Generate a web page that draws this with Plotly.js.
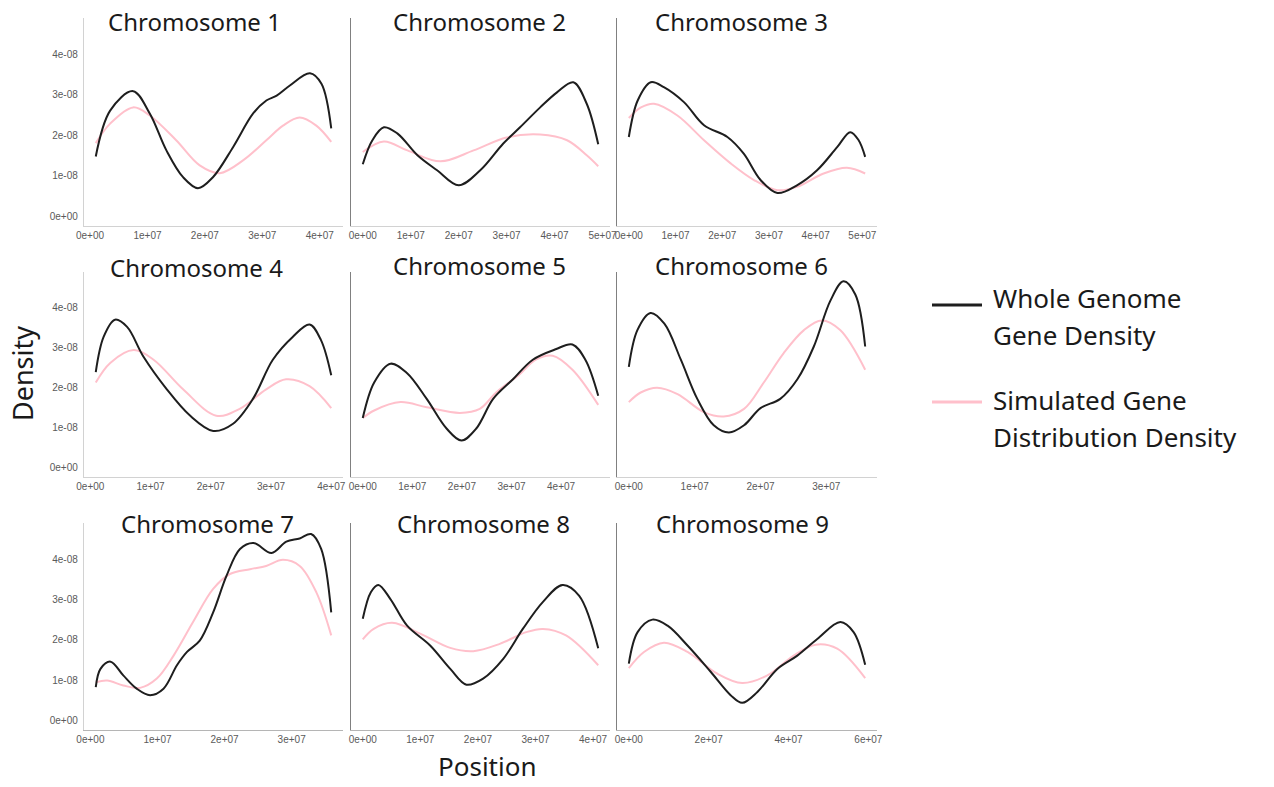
<!DOCTYPE html>
<html>
<head>
<meta charset="utf-8">
<script src="https://cdn.plot.ly/plotly-3.0.1.min.js"></script>
<style>html,body{margin:0;padding:0;background:#fff;}#chart{width:1274px;height:787px;}</style>
</head>
<body>
<div id="chart"></div>
<script>
// Units: positions in 1e7 bp, densities in 1e-8
const POS_UNIT = 1e7;
const DENS_UNIT = 1e-8;

const chromosomes = ['Chromosome 1','Chromosome 2','Chromosome 3','Chromosome 4','Chromosome 5','Chromosome 6','Chromosome 7','Chromosome 8','Chromosome 9'];
const seriesNames = ['Whole Genome Gene Density', 'Simulated Gene Distribution Density'];

// Chromosome 1
const chr1WholePos = [0.1,0.35,0.75,1.04,1.33,1.62,1.88,2.14,2.49,2.84,3.07,3.25,3.48,3.83,4.03,4.2];
const chr1WholeDens = [1.48,2.61,3.09,2.54,1.63,0.97,0.70,0.97,1.71,2.54,2.86,2.98,3.23,3.53,3.27,2.17];
const chr1SimPos = [0.1,0.35,0.75,1.04,1.5,1.91,2.26,2.67,3.07,3.36,3.65,3.94,4.2];
const chr1SimDens = [1.81,2.29,2.69,2.49,1.88,1.26,1.07,1.39,1.88,2.24,2.44,2.24,1.84];
// Chromosome 2
const chr2WholePos = [0.0,0.2,0.44,0.72,1.14,1.55,2.0,2.45,2.93,3.28,3.70,4.05,4.39,4.67,4.91];
const chr2WholeDens = [1.29,1.88,2.20,2.05,1.51,1.14,0.77,1.14,1.80,2.20,2.69,3.06,3.31,2.78,1.78];
const chr2SimPos = [0.0,0.44,0.93,1.62,2.31,3.0,3.70,4.26,4.67,4.91];
const chr2SimDens = [1.59,1.85,1.63,1.36,1.63,1.95,2.02,1.88,1.51,1.24];
// Chromosome 3
const chr3WholePos = [0.0,0.19,0.47,0.75,1.18,1.61,2.11,2.46,2.82,3.18,3.60,4.03,4.46,4.74,4.92,5.06];
const chr3WholeDens = [1.96,2.86,3.31,3.19,2.82,2.25,1.96,1.55,0.90,0.58,0.77,1.14,1.71,2.08,1.88,1.47];
const chr3SimPos = [0.0,0.26,0.54,1.04,1.61,2.18,2.68,3.18,3.60,4.17,4.67,5.06];
const chr3SimDens = [2.43,2.69,2.78,2.49,1.88,1.31,0.90,0.65,0.73,1.06,1.20,1.06];
// Chromosome 4
const chr4WholePos = [0.09,0.22,0.41,0.61,0.88,1.27,1.65,2.04,2.37,2.70,3.03,3.36,3.64,3.83,4.0];
const chr4WholeDens = [2.39,3.27,3.70,3.52,2.78,1.96,1.31,0.92,1.10,1.72,2.70,3.27,3.58,3.19,2.31];
const chr4SimPos = [0.09,0.33,0.72,1.05,1.54,2.09,2.48,2.92,3.25,3.64,4.0];
const chr4SimDens = [2.13,2.62,2.94,2.70,1.96,1.30,1.47,1.96,2.21,2.04,1.49];
// Chromosome 5
const chr5WholePos = [0.0,0.23,0.56,0.89,1.29,1.69,1.99,2.29,2.63,3.03,3.43,3.89,4.23,4.49,4.75];
const chr5WholeDens = [1.24,2.13,2.60,2.37,1.72,0.98,0.68,0.98,1.72,2.21,2.70,2.96,3.08,2.70,1.80];
const chr5SimPos = [0.0,0.23,0.76,1.29,1.96,2.36,2.69,3.16,3.49,3.83,4.23,4.75];
const chr5SimDens = [1.24,1.43,1.64,1.51,1.37,1.47,1.88,2.33,2.70,2.80,2.45,1.57];
// Chromosome 6
const chr6WholePos = [0.0,0.13,0.33,0.54,0.79,1.04,1.29,1.52,1.75,2.0,2.30,2.56,2.81,3.06,3.26,3.44,3.59];
const chr6WholeDens = [2.52,3.44,3.87,3.60,2.70,1.72,1.06,0.88,1.06,1.49,1.72,2.21,3.03,4.17,4.66,4.33,3.03];
const chr6SimPos = [0.0,0.18,0.43,0.74,1.14,1.44,1.75,2.05,2.35,2.66,2.93,3.21,3.59];
const chr6SimDens = [1.64,1.88,2.00,1.84,1.39,1.28,1.47,2.13,2.86,3.44,3.68,3.44,2.45];
// Chromosome 7
const chr7WholePos = [0.08,0.15,0.30,0.49,0.69,0.89,1.09,1.29,1.44,1.63,1.83,2.03,2.23,2.43,2.70,2.92,3.12,3.29,3.44,3.59];
const chr7WholeDens = [0.83,1.28,1.46,1.12,0.79,0.63,0.79,1.37,1.70,1.98,2.68,3.59,4.25,4.40,4.15,4.43,4.51,4.62,4.25,2.68];
const chr7SimPos = [0.08,0.25,0.49,0.74,0.99,1.24,1.53,1.83,2.08,2.38,2.62,2.87,3.12,3.37,3.59];
const chr7SimDens = [0.95,0.99,0.87,0.81,1.04,1.61,2.44,3.26,3.63,3.75,3.83,3.98,3.83,3.17,2.11];
// Chromosome 8
const chr8WholePos = [0.0,0.14,0.27,0.48,0.77,1.17,1.52,1.80,2.09,2.44,2.78,3.13,3.47,3.76,4.09];
const chr8WholeDens = [2.52,3.18,3.36,3.01,2.35,1.86,1.28,0.89,1.04,1.53,2.27,2.94,3.36,3.09,1.79];
const chr8SimPos = [0.0,0.19,0.51,1.06,1.52,1.92,2.38,2.84,3.13,3.53,4.09];
const chr8SimDens = [2.01,2.27,2.42,2.11,1.80,1.72,1.90,2.19,2.27,2.11,1.37];
// Chromosome 9
const chr9WholePos = [0.0,0.22,0.59,0.97,1.47,2.05,2.55,2.84,3.22,3.72,4.22,4.72,5.30,5.63,5.92];
const chr9WholeDens = [1.41,2.19,2.50,2.35,1.86,1.21,0.63,0.44,0.71,1.28,1.61,2.02,2.44,2.19,1.38];
const chr9SimPos = [0.0,0.38,0.88,1.47,2.22,2.84,3.47,4.13,4.68,5.22,5.92];
const chr9SimDens = [1.30,1.70,1.93,1.70,1.16,0.93,1.12,1.61,1.88,1.78,1.05];

// Tick values (in 1e7 / 1e-8 units) and labels
const xTicks123458 = [0,1,2,3,4,5];
const xTickLabels123458 = ['0e+00','1e+07','2e+07','3e+07','4e+07','5e+07'];
const xTicks9 = [0,2,4,6];
const xTickLabels9 = ['0e+00','2e+07','4e+07','6e+07'];
const yTicks = [0,1,2,3,4];
const yTickLabels = ['0e+00','1e-08','2e-08','3e-08','4e-08'];

const wholePos = [chr1WholePos,chr2WholePos,chr3WholePos,chr4WholePos,chr5WholePos,chr6WholePos,chr7WholePos,chr8WholePos,chr9WholePos];
const wholeDens = [chr1WholeDens,chr2WholeDens,chr3WholeDens,chr4WholeDens,chr5WholeDens,chr6WholeDens,chr7WholeDens,chr8WholeDens,chr9WholeDens];
const simPos = [chr1SimPos,chr2SimPos,chr3SimPos,chr4SimPos,chr5SimPos,chr6SimPos,chr7SimPos,chr8SimPos,chr9SimPos];
const simDens = [chr1SimDens,chr2SimDens,chr3SimDens,chr4SimDens,chr5SimDens,chr6SimDens,chr7SimDens,chr8SimDens,chr9SimDens];

const W = 1274, H = 787;
const colPx = [[84,343],[351,610],[617,877]];
const rowPx = [[18,226],[272,477],[523,730]];
const titlePx = [[194,22],[479,22],[741,22],[196,267],[479,265],[741,265],[207,523],[483,523],[742,523]];

const BLACK = '#1e1e1e', PINK = '#ffc0cb';
const txtFont = '"Noto Sans", "Open Sans", sans-serif';
const tickFont = {family: '"Liberation Sans", Arial, sans-serif', size: 10, color: '#5a5a5a'};

const px2x = p => p / W;
const px2y = p => 1 - p / H;

// shared y range with 5% expansion
let yMax = 0, yMin = Infinity;
wholeDens.concat(simDens).forEach(a => a.forEach(v => { yMax = Math.max(yMax, v); yMin = Math.min(yMin, v); }));
yMin = 0;
const yPad = 0.05 * (yMax - yMin);
const yRange = [(yMin - yPad) * DENS_UNIT, (yMax + yPad) * DENS_UNIT];

const traces = [];
const layout = {
  width: W, height: H,
  margin: {l: 0, r: 0, t: 0, b: 0},
  paper_bgcolor: '#ffffff', plot_bgcolor: '#ffffff',
  showlegend: false,
  annotations: [], shapes: []
};

for (let i = 0; i < 9; i++) {
  const r = Math.floor(i / 3), c = i % 3;
  const sfx = i === 0 ? '' : String(i + 1);
  const xa = 'x' + sfx, ya = 'y' + sfx;
  traces.push({
    type: 'scatter', mode: 'lines', name: seriesNames[1],
    x: simPos[i].map(v => v * POS_UNIT), y: simDens[i].map(v => v * DENS_UNIT),
    xaxis: xa, yaxis: ya,
    line: {color: PINK, width: 2, shape: 'spline', smoothing: 1}
  });
  traces.push({
    type: 'scatter', mode: 'lines', name: seriesNames[0],
    x: wholePos[i].map(v => v * POS_UNIT), y: wholeDens[i].map(v => v * DENS_UNIT),
    xaxis: xa, yaxis: ya,
    line: {color: BLACK, width: 2, shape: 'spline', smoothing: 1}
  });
  const all = wholePos[i].concat(simPos[i]);
  const mn = Math.min(...all), mx = Math.max(...all);
  const pad = 0.05 * (mx - mn);
  const tv = i === 8 ? xTicks9 : xTicks123458;
  const tt = i === 8 ? xTickLabels9 : xTickLabels123458;
  layout['xaxis' + sfx] = {
    domain: [px2x(colPx[c][0]), px2x(colPx[c][1])],
    anchor: ya,
    range: [(mn - pad) * POS_UNIT, (mx + pad) * POS_UNIT],
    showgrid: false, zeroline: false, showline: true,
    linecolor: r === 2 ? '#b5b5b5' : '#d2d2d2', linewidth: 1.2,
    ticks: '', tickvals: tv.map(v => v * POS_UNIT), ticktext: tt,
    tickfont: tickFont, fixedrange: true
  };
  layout['yaxis' + sfx] = {
    domain: [px2y(rowPx[r][1]), px2y(rowPx[r][0])],
    anchor: xa,
    range: yRange,
    showgrid: false, zeroline: false, showline: true,
    linecolor: c === 0 ? '#d2d2d2' : '#808080', linewidth: c === 0 ? 1.2 : 1.5,
    ticks: '', tickvals: yTicks.map(v => v * DENS_UNIT), ticktext: yTickLabels,
    showticklabels: c === 0, ticklabelstandoff: 3,
    tickfont: tickFont, fixedrange: true
  };
  layout.annotations.push({
    xref: 'paper', yref: 'paper', x: px2x(titlePx[i][0]), y: px2y(titlePx[i][1]),
    xanchor: 'center', yanchor: 'middle', showarrow: false,
    text: chromosomes[i], font: {family: txtFont, size: 24, color: '#1a1a1a'}
  });
}

// axis titles
layout.annotations.push({
  xref: 'paper', yref: 'paper', x: px2x(22), y: px2y(374), xanchor: 'center', yanchor: 'middle',
  showarrow: false, textangle: -90, text: 'Density', font: {family: txtFont, size: 27, color: '#1a1a1a'}
});
layout.annotations.push({
  xref: 'paper', yref: 'paper', x: px2x(487), y: px2y(766), xanchor: 'center', yanchor: 'middle',
  showarrow: false, text: 'Position', font: {family: txtFont, size: 26, color: '#1a1a1a'}
});

// legend
const legendLines = [
  {color: BLACK, y: 305, width: 3, text: ['Whole Genome', 'Gene Density'], ty: [298, 335]},
  {color: PINK, y: 402, width: 3, text: ['Simulated Gene', 'Distribution Density'], ty: [400, 437]}
];
legendLines.forEach(l => {
  layout.shapes.push({type: 'line', xref: 'paper', yref: 'paper', x0: px2x(932), x1: px2x(982), y0: px2y(l.y), y1: px2y(l.y), line: {color: l.color, width: l.width}});
  l.text.forEach((t, k) => layout.annotations.push({
    xref: 'paper', yref: 'paper', x: px2x(991), y: px2y(l.ty[k]), xanchor: 'left', yanchor: 'middle',
    showarrow: false, text: t, font: {family: txtFont, size: 26, color: '#1a1a1a'}
  }));
});

Plotly.newPlot('chart', traces, layout, {staticPlot: true, displayModeBar: false});
</script>
</body>
</html>
